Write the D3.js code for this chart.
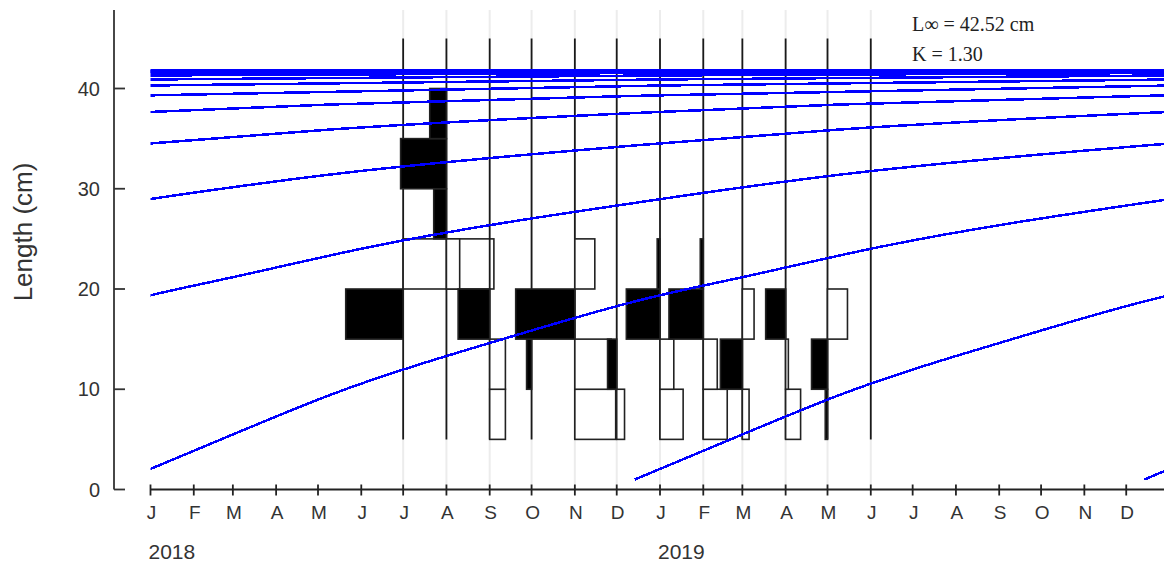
<!DOCTYPE html>
<html>
<head>
<meta charset="utf-8">
<script src="https://cdnjs.cloudflare.com/ajax/libs/d3/7.8.5/d3.min.js"></script>
<style>
  html, body { margin: 0; padding: 0; background: #ffffff; }
  svg { display: block; }
</style>
</head>
<body>
<svg id="chart" width="1164" height="568"></svg>
<script>
// ---- data -----------------------------------------------------------------
// Sampling dates of the length-frequency data
const sampleDates = [
  "2018-07-01", "2018-08-01", "2018-09-01", "2018-10-01", "2018-11-01", "2018-12-01",
  "2019-01-01", "2019-02-01", "2019-03-01", "2019-04-01", "2019-05-01", "2019-06-01"
];

// Lower bounds of the 5 cm length classes
const binLower = [5, 10, 15, 20, 25, 30, 35];
const binWidth = 5;

// Restructured scores per sample (columns follow binLower);
// positive scores are drawn black, negative scores white
const scoresJul = [ 0.000,  0.000,  0.633, -1.000, 0.000, 0.000, 0.000];
const scoresAug = [ 0.000,  0.000,  0.000, -0.146, 0.140, 0.505, 0.184];
const scoresSep = [-0.173, -0.173,  0.348,  0.000, 0.000, 0.000, 0.000];
const scoresOct = [ 0.000,  0.055,  0.000,  0.000, 0.000, 0.000, 0.000];
const scoresNov = [-0.450, -0.400,  0.652, -0.220, 0.000, 0.000, 0.000];
const scoresDec = [-0.086,  0.101,  0.000,  0.000, 0.000, 0.000, 0.000];
const scoresJan = [-0.255, -0.152,  0.371,  0.031, 0.000, 0.000, 0.000];
const scoresFeb = [-0.264, -0.154,  0.378,  0.033, 0.000, 0.000, 0.000];
const scoresMar = [-0.074,  0.242, -0.129,  0.000, 0.000, 0.000, 0.000];
const scoresApr = [-0.165, -0.030,  0.220,  0.000, 0.000, 0.000, 0.000];
const scoresMay = [ 0.025,  0.176, -0.220,  0.000, 0.000, 0.000, 0.000];
const scoresJun = [ 0.000,  0.000,  0.000,  0.000, 0.000, 0.000, 0.000];
const sampleScores = [scoresJul, scoresAug, scoresSep, scoresOct, scoresNov, scoresDec,
                      scoresJan, scoresFeb, scoresMar, scoresApr, scoresMay, scoresJun];

// Length-at-age of a cohort (years since recruitment, cm)
const cohortAge    = [0, 0.23, 0.40, 0.76, 1.01, 1.23, 1.48, 2.04, 2.40, 3.02, 3.40,
                      4.02, 4.40, 5.03, 6.05, 7.05, 8.05, 9.05, 10.05, 11.05, 12.10];
const cohortLength = [1.0, 5.9, 9.4, 15.3, 18.9, 21.4, 24.2, 28.9, 31.4, 34.4, 35.9,
                      37.6, 38.4, 39.3, 40.3, 40.9, 41.3, 41.55, 41.7, 41.8, 41.87];

// Recruitment dates of the successive cohorts
const cohortStarts = [
  "2006-12-14", "2007-12-14", "2008-12-14", "2009-12-14", "2010-12-14", "2011-12-14",
  "2012-12-14", "2013-12-14", "2014-12-14", "2015-12-14", "2016-12-14", "2017-12-14",
  "2018-12-14", "2019-12-14"
];

const monthLabels = ["J", "F", "M", "A", "M", "J", "J", "A", "S", "O", "N", "D"];
const yearLabels = ["2018", "2019"];
const yTicks = [0, 10, 20, 30, 40];
const paramLabels = ["L\u221E = 42.52 cm", "K = 1.30"];

// ---- layout ---------------------------------------------------------------
const DAY = 86400000;
const parse = d3.utcParse("%Y-%m-%d");
const svg = d3.select("#chart");

const x = d3.scaleUtc()
  .domain([Date.UTC(2018, 0, 1), Date.UTC(2020, 0, 1)])
  .range([150.5, 1169.5]);
const y = d3.scaleLinear().domain([0, 40]).range([489.5, 88.5]);

const histScaleDays = 65;     // days spanned by a score of 1
const maxLength = 45;          // upper bound of the length classes
const plotTop = 10;

const dates = sampleDates.map(parse);

// faint guide lines at each sample
svg.append("g")
  .selectAll("line")
  .data(dates)
  .join("line")
  .attr("x1", d => x(d)).attr("x2", d => x(d))
  .attr("y1", plotTop).attr("y2", y(0))
  .attr("stroke", "#ececec")
  .attr("stroke-width", 2);

// histograms: one vertical baseline and a set of bars per sample
const hist = svg.append("g");
dates.forEach((d, i) => {
  const g = hist.append("g");
  const x0 = x(d);
  g.append("line")
    .attr("x1", x0).attr("x2", x0)
    .attr("y1", y(binLower[0])).attr("y2", y(maxLength))
    .attr("stroke", "#1a1a1a")
    .attr("stroke-width", 1.8);
  sampleScores[i].forEach((s, j) => {
    if (s === 0) return;
    const xEnd = x(new Date(d.getTime() - s * histScaleDays * DAY));
    g.append("rect")
      .attr("x", Math.min(x0, xEnd))
      .attr("width", Math.abs(xEnd - x0))
      .attr("y", y(binLower[j] + binWidth))
      .attr("height", y(binLower[j]) - y(binLower[j] + binWidth))
      .attr("fill", s > 0 ? "#000000" : "#ffffff")
      .attr("stroke", "#222222")
      .attr("stroke-width", 1.6);
  });
});

// growth curves
svg.append("defs").append("clipPath").attr("id", "plotClip")
  .append("rect")
  .attr("x", x(Date.UTC(2018, 0, 1))).attr("y", plotTop)
  .attr("width", 1164 - x(Date.UTC(2018, 0, 1)) + 10)
  .attr("height", y(0) - plotTop);

const line = d3.line()
  .x(p => x(p[0]))
  .y(p => y(p[1]))
  .curve(d3.curveMonotoneX);

const curves = cohortStarts.map(s => {
  const t0 = parse(s).getTime();
  return cohortAge.map((a, k) => [new Date(t0 + a * 365.25 * DAY), cohortLength[k]]);
});

svg.append("g")
  .attr("clip-path", "url(#plotClip)")
  .selectAll("path")
  .data(curves)
  .join("path")
  .attr("d", line)
  .attr("fill", "none")
  .attr("stroke", "#0000ff")
  .attr("stroke-width", 2.5)
  .attr("shape-rendering", "crispEdges");

// y axis
const yAxis = svg.append("g").attr("font-family", "Liberation Sans, Arial, sans-serif");
yAxis.append("line")
  .attr("x1", 114).attr("x2", 114)
  .attr("y1", plotTop).attr("y2", y(0))
  .attr("stroke", "#333").attr("stroke-width", 1.8);
yAxis.selectAll(".ytick")
  .data(yTicks)
  .join("line")
  .attr("x1", 114).attr("x2", 125)
  .attr("y1", d => y(d)).attr("y2", d => y(d))
  .attr("stroke", "#333").attr("stroke-width", 1.8);
yAxis.selectAll(".ylab")
  .data(yTicks)
  .join("text")
  .attr("x", 100).attr("y", d => y(d))
  .attr("dy", "0.36em")
  .attr("text-anchor", "end")
  .attr("font-size", 20)
  .attr("fill", "#333")
  .text(d => d);
yAxis.append("text")
  .attr("transform", "translate(32,232) rotate(-90)")
  .attr("text-anchor", "middle")
  .attr("font-size", 26)
  .attr("fill", "#333")
  .text("Length (cm)");

// x axis with month initials and years
const months = x.ticks(d3.utcMonth.every(1)).filter(d => d < Date.UTC(2020, 0, 1));
const xAxis = svg.append("g").attr("font-family", "Liberation Sans, Arial, sans-serif");
xAxis.append("line")
  .attr("x1", x(months[0])).attr("x2", 1164)
  .attr("y1", y(0)).attr("y2", y(0))
  .attr("stroke", "#222").attr("stroke-width", 1.8);
xAxis.selectAll(".xtick")
  .data(months)
  .join("line")
  .attr("x1", d => x(d)).attr("x2", d => x(d))
  .attr("y1", y(0) - 5).attr("y2", y(0) + 6)
  .attr("stroke", "#222").attr("stroke-width", 1.8);
xAxis.selectAll(".xlab")
  .data(months)
  .join("text")
  .attr("x", d => x(d) + 1).attr("y", 519)
  .attr("text-anchor", "middle")
  .attr("font-size", 19)
  .attr("fill", "#333")
  .text(d => monthLabels[d.getUTCMonth()]);
xAxis.selectAll(".ylabyr")
  .data(yearLabels)
  .join("text")
  .attr("x", d => x(Date.UTC(+d, 0, 1)) - 2).attr("y", 559)
  .attr("font-size", 21)
  .attr("fill", "#333")
  .text(d => d);

// model parameters
svg.append("g")
  .attr("font-family", "Liberation Serif, Times New Roman, serif")
  .selectAll("text")
  .data(paramLabels)
  .join("text")
  .attr("x", 912)
  .attr("y", (d, i) => 31 + i * 30)
  .attr("font-size", 20)
  .attr("fill", "#222")
  .text(d => d);
</script>
</body>
</html>
